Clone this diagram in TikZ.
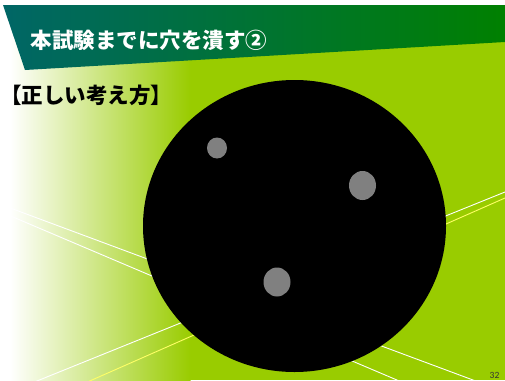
\documentclass[tikz,border=0pt]{standalone}
\usepackage{fontspec}
\newfontfamily\jpfont{Noto Sans CJK JP}
\newfontfamily\numfont{Carlito}
\usetikzlibrary{shapes.geometric}
\definecolor{slidegreen}{RGB}{153,204,0}
\definecolor{bannerteal}{RGB}{0,102,102}
\definecolor{bannergreen}{RGB}{0,128,0}
\definecolor{spotgray}{RGB}{128,128,128}
\definecolor{rayyellow}{RGB}{255,255,102}
\begin{document}
\begin{tikzpicture}[x=1pt, y=-1pt,
    ray/.style={line width=0.9pt},
    spot/.style={fill=spotgray}]
    \useasboundingbox (0,0) rectangle (505,380);
    % background
    \fill[white] (0,0) rectangle (505,380);
    \fill[slidegreen] (190,5) rectangle (505,380);
    \shade[left color=white, right color=slidegreen] (10,5) rectangle (190.5,380);
    % rays behind the hole
    \begin{scope}
        \clip (0,0) rectangle (505,380);
        \draw[ray, white] (0,204.2) -- (505,391.9);
        \draw[ray, white] (0,211.5) -- (420,389.8);
        \draw[ray, white] (0,395.9) -- (505,192);
        \draw[ray, rayyellow] (0,420.5) -- (505,198);
    \end{scope}
    % title banner
    \shade[left color=bannerteal, right color=bannergreen] (3,5) -- (505,5) -- (505,42) -- (25,70) -- cycle;
    \node[anchor=west, inner sep=0pt, text=white, font=\jpfont\bfseries\fontsize{21.5}{22}\selectfont] (title) at (30.5,40) {本試験までに穴を潰す②};
    \node[anchor=west, inner sep=0pt, text=black, font=\jpfont\bfseries\fontsize{21.5}{22}\selectfont] (subtitle) at (0,95) {【正しい考え方】};
    % the hole and its spots
    \fill[black] (294.5,226) ellipse [x radius=151.5, y radius=146];
    \fill[spot] (217,148) ellipse [x radius=10, y radius=10.5];
    \fill[spot] (362.5,185.5) ellipse [x radius=13.5, y radius=14.5];
    \fill[spot] (277,282) ellipse [x radius=13.5, y radius=14.5];
    \node[anchor=base, inner sep=0pt, text=black!80, font=\numfont\fontsize{9.5}{9.5}\selectfont] (pagenum) at (494.5,378) {32};
\end{tikzpicture}
\end{document}
